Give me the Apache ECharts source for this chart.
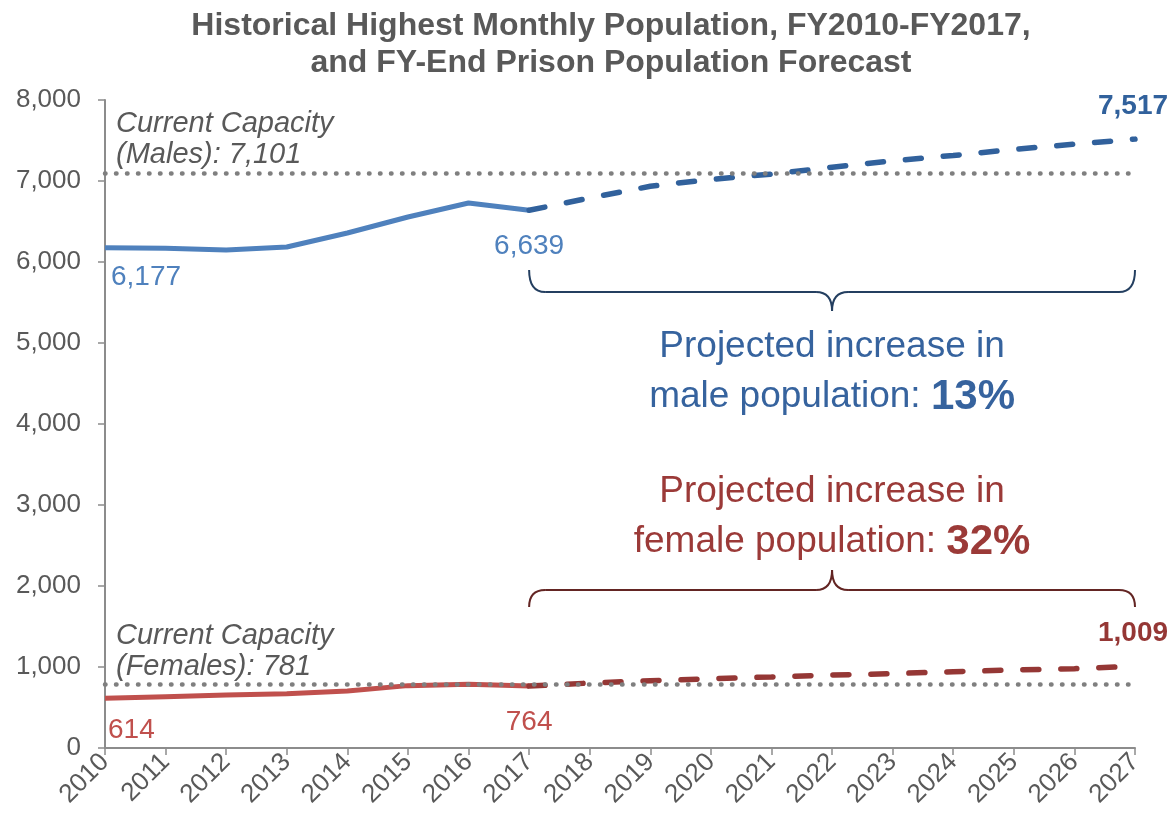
<!DOCTYPE html>
<html>
<head>
<meta charset="utf-8">
<script src="https://cdn.jsdelivr.net/npm/echarts@6/dist/echarts.min.js"></script>
<style>
  html, body { margin: 0; padding: 0; background: #fff; }
  #chart { width: 1170px; height: 825px; }
</style>
</head>
<body>
<div id="chart"></div>
<script>
// 数据
const years = ['2010', '2011', '2012', '2013', '2014', '2015', '2016', '2017', '2018',
  '2019', '2020', '2021', '2022', '2023', '2024', '2025', '2026', '2027']
const maleActual = [6177, 6170, 6148, 6185, 6358, 6556, 6728, 6639]
const maleForecast = [6639, 6790, 6935, 7020, 7085, 7170, 7250, 7315, 7390, 7455, 7517]
const femaleActual = [614, 634, 654, 671, 704, 770, 786, 764]
const femaleForecast = [764, 802, 831, 856, 877, 901, 918, 942, 963, 979, 1009]
const maleCapacity = 7101
const femaleCapacity = 781
const yTicks = [0, 8000, 1000] // min, max, interval

const FONT = "'Liberation Sans', Arial, sans-serif"
const GRAY = '#595959'
const MALE = '#4f81bd'
const MALE_DARK = '#31619c'
const FEMALE = '#c0504d'
const FEMALE_DARK = '#953735'

const fmt = (v) => v.toLocaleString('en-US')

// 历史数据 + 空值，预测数据前补空值
const lastActual = maleActual.length - 1
const pad = (arr, before, total) => {
  const out = new Array(before).fill(null).concat(arr)
  while (out.length < total) out.push(null)
  return out
}

const capLine = (value) => ({
  silent: true,
  symbol: 'none',
  label: { show: false },
  lineStyle: { color: '#7f7f7f', type: [0.5, 10.5], width: 4.5, cap: 'round' },
  data: [{ yAxis: value }]
})

const chart = echarts.init(document.getElementById('chart'))

chart.setOption({
  animation: false,
  textStyle: { fontFamily: FONT },
  title: {
    text: 'Historical Highest Monthly Population, FY2010-FY2017,\nand FY-End Prison Population Forecast',
    left: 606,
    top: 3,
    textAlign: 'center',
    textStyle: { fontFamily: FONT, fontSize: 32, fontWeight: 'bold', color: GRAY, lineHeight: 37 }
  },
  grid: { left: 105, right: 35, top: 100, bottom: 77 },
  xAxis: {
    type: 'category',
    data: years,
    boundaryGap: false,
    axisLine: { lineStyle: { color: '#8c8c8c', width: 2 } },
    axisTick: { show: true, interval: 0, length: 7, lineStyle: { color: '#8c8c8c', width: 1.5 } },
    axisLabel: { interval: 0, rotate: 45, fontSize: 26, color: GRAY, margin: 10, fontFamily: FONT }
  },
  yAxis: {
    type: 'value',
    min: yTicks[0],
    max: yTicks[1],
    interval: yTicks[2],
    splitLine: { show: false },
    axisLine: { show: true, lineStyle: { color: '#8c8c8c', width: 2 } },
    axisTick: { show: true, length: 7, lineStyle: { color: '#8c8c8c', width: 1.5 } },
    axisLabel: { fontSize: 26, color: GRAY, margin: 24, fontFamily: FONT, formatter: fmt }
  },
  series: [
    {
      name: 'Males',
      type: 'line',
      data: pad(maleActual, 0, years.length),
      symbol: 'none',
      lineStyle: { color: MALE, width: 5 },
      z: 3,
      markLine: capLine(maleCapacity)
    },
    {
      name: 'Males forecast',
      type: 'line',
      data: pad(maleForecast, lastActual, years.length),
      symbol: 'none',
      lineStyle: { color: MALE_DARK, width: 5.5, type: [16, 22], cap: 'round' },
      z: 3
    },
    {
      name: 'Females',
      type: 'line',
      data: pad(femaleActual, 0, years.length),
      symbol: 'none',
      lineStyle: { color: FEMALE, width: 5 },
      z: 3,
      markLine: capLine(femaleCapacity)
    },
    {
      name: 'Females forecast',
      type: 'line',
      data: pad(femaleForecast, lastActual, years.length),
      symbol: 'none',
      lineStyle: { color: FEMALE_DARK, width: 5.5, type: [16, 22], cap: 'round' },
      z: 3
    }
  ]
})

// 注释：容量文字、数据标签、括号和增幅说明
const px = (i, v) => chart.convertToPixel({ xAxisIndex: 0, yAxisIndex: 0 }, [i, v])
const last = years.length - 1
const gridLeft = px(0, 0)[0]

const capText = (label, value) => {
  const y = px(0, value)[1]
  return {
    type: 'text',
    x: gridLeft + 11,
    y: y - 2,
    style: {
      text: 'Current Capacity\n(' + label + '): ' + fmt(value),
      font: 'italic 29px ' + FONT,
      fill: GRAY,
      lineHeight: 31,
      verticalAlign: 'bottom',
      align: 'left'
    }
  }
}

const pointLabel = (i, v, dx, dy, color, bold, align) => {
  const p = px(i, v)
  return {
    type: 'text',
    x: p[0] + dx,
    y: p[1] + dy,
    style: {
      text: fmt(v),
      font: (bold ? 'bold ' : '') + '28px ' + FONT,
      fill: color,
      align: align,
      verticalAlign: 'middle'
    }
  }
}

// 花括号：两端弯角、中间尖角，用直线和二次曲线拼成
const brace = (x0, x1, yEnd, yLine, yTip, color) => {
  const xc = (x0 + x1) / 2
  const r = 16
  const style = { stroke: color, lineWidth: 2, fill: null }
  const curve = (ax, ay, cx, cy, bx, by) => ({
    type: 'bezierCurve',
    shape: { x1: ax, y1: ay, cpx1: cx, cpy1: cy, x2: bx, y2: by },
    style: style
  })
  const seg = (ax, bx) => ({
    type: 'line',
    shape: { x1: ax, y1: yLine, x2: bx, y2: yLine },
    style: style
  })
  return {
    type: 'group',
    children: [
      curve(x0, yEnd, x0, yLine, x0 + r, yLine),
      seg(x0 + r, xc - r),
      curve(xc - r, yLine, xc, yLine, xc, yTip),
      curve(xc, yTip, xc, yLine, xc + r, yLine),
      seg(xc + r, x1 - r),
      curve(x1 - r, yLine, x1, yLine, x1, yEnd)
    ]
  }
}

const increaseText = (xc, yTop, who, pct, color) => ({
  type: 'text',
  x: xc,
  y: yTop,
  style: {
    text: '{n|Projected increase in}\n{n|' + who + ' population: }{b|' + pct + '%}',
    align: 'center',
    verticalAlign: 'top',
    fill: color,
    rich: {
      n: { fontFamily: FONT, fontSize: 37, fill: color, lineHeight: 50 },
      b: { fontFamily: FONT, fontSize: 42, fontWeight: 'bold', fill: color, lineHeight: 50 }
    }
  }
})

const x0 = px(lastActual, 0)[0]
const x1 = px(last, 0)[0]
const xc = (x0 + x1) / 2
const malePct = Math.round((maleForecast[maleForecast.length - 1] / maleActual[lastActual] - 1) * 100)
const femalePct = Math.round((femaleForecast[femaleForecast.length - 1] / femaleActual[lastActual] - 1) * 100)

chart.setOption({
  graphic: [
    capText('Males', maleCapacity),
    capText('Females', femaleCapacity),
    pointLabel(0, maleActual[0], 6, 30, MALE, false, 'left'),
    pointLabel(lastActual, maleActual[lastActual], 0, 36, MALE, false, 'center'),
    pointLabel(0, femaleActual[0], 3, 32, FEMALE, false, 'left'),
    pointLabel(lastActual, femaleActual[lastActual], 0, 36, FEMALE, false, 'center'),
    pointLabel(last, maleForecast[maleForecast.length - 1], -2, -33, MALE_DARK, true, 'center'),
    pointLabel(last, femaleForecast[femaleForecast.length - 1], -2, -33, FEMALE_DARK, true, 'center'),
    brace(x0, x1, 270, 292, 311, '#243f60'),
    brace(x0, x1, 607, 590, 570, '#632523'),
    increaseText(xc, 322, 'male', malePct, '#36639e'),
    increaseText(xc, 467, 'female', femalePct, '#9b3a38')
  ]
})
</script>
</body>
</html>
